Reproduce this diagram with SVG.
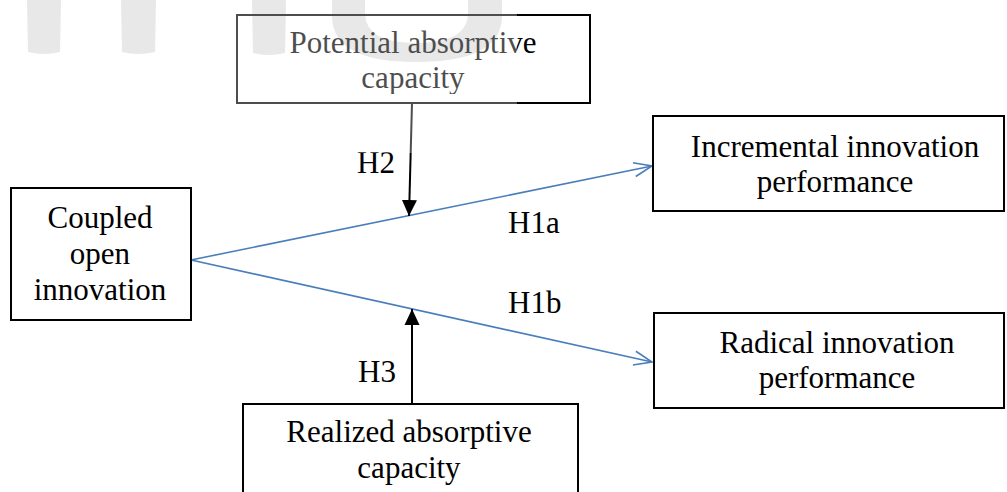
<svg xmlns="http://www.w3.org/2000/svg" width="1007" height="492" viewBox="0 0 1007 492">
<style>
  .box { fill: none; stroke: #000; stroke-width: 2; }
  .lbl { font-family: "Liberation Serif", "Times New Roman", serif; font-size: 31px; fill: #000; text-anchor: middle; }
  .hyp { font-family: "Liberation Serif", "Times New Roman", serif; font-size: 31px; fill: #000; }
  .blue { stroke: #4a7ebb; stroke-width: 1.6; fill: none; }
  .blk { stroke: #000; stroke-width: 2; fill: none; }
  .wm { fill: #dedede; }
</style>
<defs>
  <marker id="openBlue" markerUnits="userSpaceOnUse" markerWidth="22" markerHeight="18" refX="19" refY="8" orient="auto" viewBox="0 0 22 18">
    <path d="M1,1 L19,8 L1,15" fill="none" stroke="#4a7ebb" stroke-width="1.6"/>
  </marker>
  <marker id="solidBlk" markerUnits="userSpaceOnUse" markerWidth="16" markerHeight="16" refX="16" refY="8" orient="auto" viewBox="0 0 16 16">
    <path d="M0,0.5 L16,8 L0,15.5 Z" fill="#000"/>
  </marker>
  <clipPath id="clipTop"><rect x="237" y="15" width="353" height="79"/></clipPath>
</defs>
<rect width="1007" height="492" fill="#fff"/>
<g id="watermark">
  <path class="wm" d="M27,0 L61,0 L60,52 Q44,56 28,52 Z"/>
  <path class="wm" d="M121,0 L156,0 L155,52 Q138,56 122,52 Z"/>
  <path class="wm" d="M252,0 L286,0 L285,53 Q268,57 253,53 Z"/>
  <path class="wm" d="M332,0 L365,0 L365,14 Q366,43 416,43 Q467,43 468,14 L468,0 L502,0 L502,18 Q500,62 416,62 Q334,62 332,18 Z"/>
</g>
<g id="connectors">
  <line class="blue" x1="191" y1="260" x2="652" y2="166" marker-end="url(#openBlue)"/>
  <line class="blue" x1="191" y1="260" x2="652" y2="362" marker-end="url(#openBlue)"/>
  <line class="blk" x1="412" y1="103" x2="409" y2="216" marker-end="url(#solidBlk)"/>
  <line class="blk" x1="412" y1="404" x2="412" y2="309" marker-end="url(#solidBlk)"/>
  <text class="hyp" x="357" y="173">H2</text>
  <text class="hyp" x="358" y="382">H3</text>
  <text class="hyp" x="508" y="233">H1a</text>
  <text class="hyp" x="508" y="313">H1b</text>
</g>
<g id="node-potential">
  <rect class="box" x="237" y="15" width="353" height="88"/>
  <g clip-path="url(#clipTop)">
    <text class="lbl" x="413" y="53">Potential absorptive</text>
    <text class="lbl" x="413" y="88">capacity</text>
  </g>
</g>
<g id="node-coupled">
  <rect class="box" x="11" y="188" width="180" height="132"/>
  <text class="lbl" x="100" y="228">Coupled</text>
  <text class="lbl" x="100" y="264">open</text>
  <text class="lbl" x="100" y="300">innovation</text>
</g>
<g id="node-incremental">
  <rect class="box" x="653" y="116" width="351" height="95"/>
  <text class="lbl" x="835" y="157">Incremental innovation</text>
  <text class="lbl" x="835" y="192">performance</text>
</g>
<g id="node-radical">
  <rect class="box" x="654" y="313" width="350" height="95"/>
  <text class="lbl" x="837" y="353">Radical innovation</text>
  <text class="lbl" x="837" y="388">performance</text>
</g>
<g id="node-realized">
  <rect class="box" x="243" y="404" width="335" height="100"/>
  <text class="lbl" x="409" y="442">Realized absorptive</text>
  <text class="lbl" x="409" y="478">capacity</text>
</g>
<rect id="overlay" x="0" y="0" width="517" height="153" fill="#fff" fill-opacity="0.3"/>
</svg>
